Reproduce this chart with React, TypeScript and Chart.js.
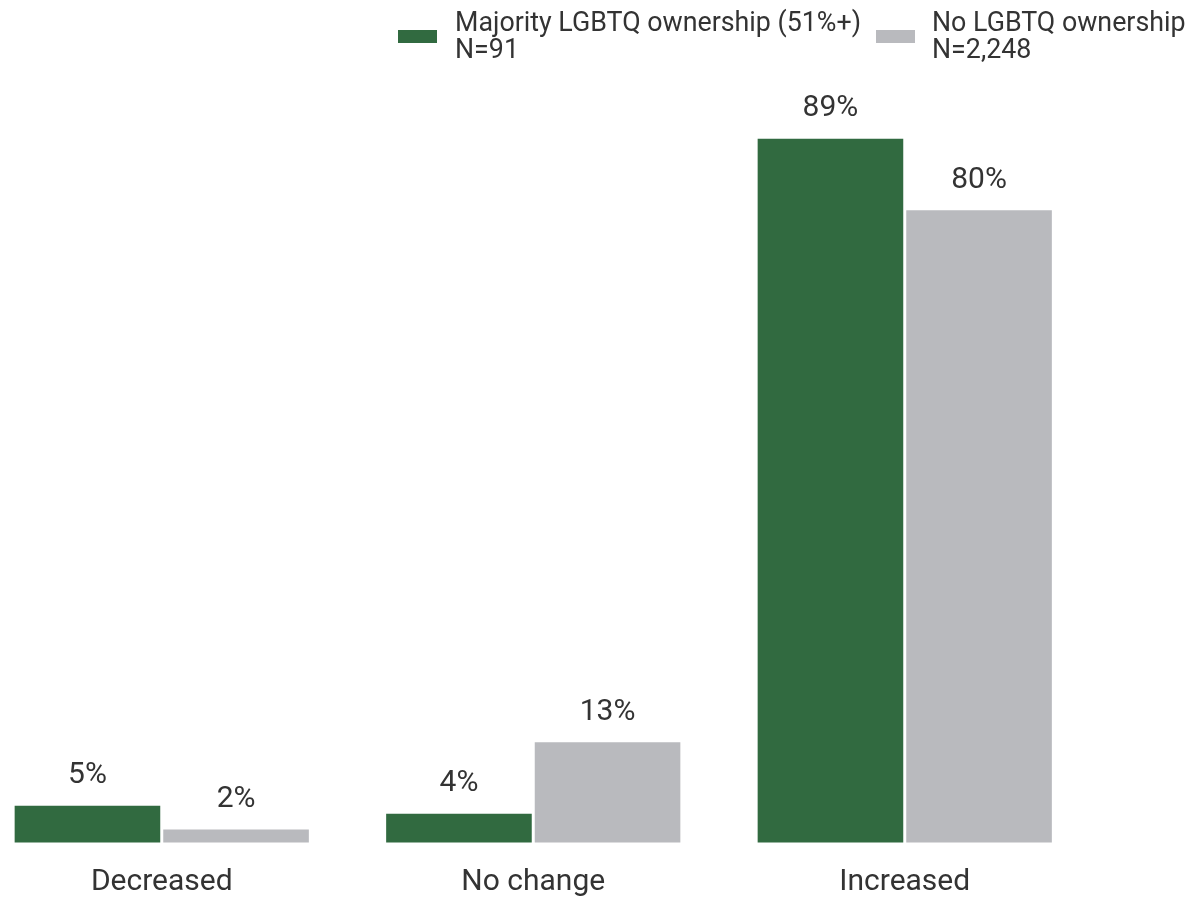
import React, { useEffect, useRef } from 'react';
import { Chart, registerables } from 'chart.js';

Chart.register(...registerables);

const categories = ['Decreased', 'No change', 'Increased'];
const seriesLabels = [
  ['Majority LGBTQ ownership (51%+)', 'N=91'],
  ['No LGBTQ ownership', 'N=2,248'],
];
const majorityValues = [5, 4, 89];
const noneValues = [2, 13, 80];
const seriesColors = ['#316a40', '#b9babe'];

const FONT = 'Roboto, "Noto Sans", sans-serif';
const TEXT = '#333333';
const SHIFT = 24; // canvas is shifted 24px left of the page

const dataLabelPlugin = {
  id: 'dataLabels',
  afterDatasetsDraw(chart: any) {
    const ctx = chart.ctx;
    ctx.save();
    ctx.font = `30px ${FONT}`;
    ctx.fillStyle = TEXT;
    ctx.textAlign = 'center';
    ctx.textBaseline = 'alphabetic';
    chart.data.datasets.forEach((ds: any, i: number) => {
      const meta = chart.getDatasetMeta(i);
      meta.data.forEach((el: any, j: number) => {
        ctx.fillText(`${ds.data[j]}%`, el.x, el.y - 21);
      });
    });
    ctx.restore();
  },
};

const legendPlugin = {
  id: 'customLegend',
  afterDraw(chart: any) {
    const ctx = chart.ctx;
    ctx.save();
    ctx.font = `26.8px ${FONT}`;
    ctx.textAlign = 'left';
    ctx.textBaseline = 'alphabetic';
    const boxX = [398 + SHIFT, 876 + SHIFT];
    const textX = [455 + SHIFT, 932 + SHIFT];
    seriesLabels.forEach((lines, i) => {
      ctx.fillStyle = seriesColors[i];
      ctx.fillRect(boxX[i], 30, 39, 13);
      ctx.fillStyle = TEXT;
      lines.forEach((line, k) => {
        ctx.fillText(line, textX[i], 30.5 + k * 27);
      });
    });
    ctx.restore();
  },
};

export default function App() {
  const ref = useRef<HTMLCanvasElement | null>(null);
  useEffect(() => {
    if (!ref.current) return;
    const chart = new Chart(ref.current, {
      type: 'bar',
      data: {
        labels: categories,
        datasets: [
          {
            label: seriesLabels[0].join(' '),
            data: majorityValues,
            backgroundColor: seriesColors[0],
            borderColor: '#ffffff',
            borderWidth: 1.5,
            borderSkipped: false,
            categoryPercentage: 0.8,
            barPercentage: 1.0,
          },
          {
            label: seriesLabels[1].join(' '),
            data: noneValues,
            backgroundColor: seriesColors[1],
            borderColor: '#ffffff',
            borderWidth: 1.5,
            borderSkipped: false,
            categoryPercentage: 0.8,
            barPercentage: 1.0,
          },
        ],
      },
      options: {
        animation: false,
        responsive: true,
        maintainAspectRatio: false,
        layout: { padding: { top: 50, left: 0, right: 101.5, bottom: -15 } },
        plugins: {
          legend: { display: false },
          tooltip: { enabled: false },
        },
        scales: {
          x: {
            grid: { display: false },
            border: { display: false },
            ticks: { color: TEXT, font: { family: FONT, size: 30 }, padding: 12 },
          },
          y: {
            display: false,
            min: 0,
            max: 100,
          },
        },
      },
      plugins: [dataLabelPlugin, legendPlugin],
    });
    return () => chart.destroy();
  }, []);
  return (
    <div style={{ position: 'absolute', left: -SHIFT, top: 0, width: 1192 + SHIFT, height: 897 }}>
      <canvas ref={ref} />
    </div>
  );
}
